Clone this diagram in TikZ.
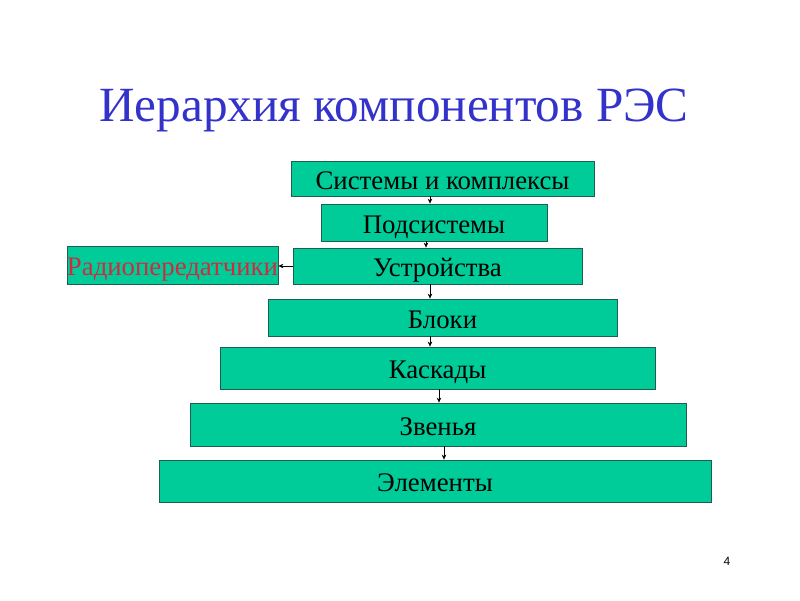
\documentclass[tikz,border=0pt]{standalone}
\usepackage{fontspec}
\setmainfont{Liberation Serif}
\newfontfamily\numfont{Liberation Sans}
\usetikzlibrary{arrows.meta}
\definecolor{titul}{HTML}{3333CC}
\definecolor{hop}{HTML}{00CC99}
\definecolor{vien}{HTML}{1F5F4F}
\definecolor{dothu}{HTML}{D02A40}
\tikzset{
	hop/.style={draw=vien,fill=hop,line width=0.8pt,inner sep=0pt,text height=22pt,text depth=1pt,font=\fontsize{26.8}{30}\selectfont},
	muiten/.style={-{Stealth[length=5pt,width=4.5pt]},line width=0.6pt}
}
\begin{document}
\begin{tikzpicture}[x=1pt,y=-1pt]
		\useasboundingbox[fill=white] (0,0) rectangle (800,600);
		%Tiêu đề
		\node[titul,font=\fontsize{49.2}{54}\selectfont] (tieude) at (394,110) {Иерархия компонентов РЭС};
		%Các hộp
		\node[hop,minimum width=303,minimum height=35] (sys) at (442.5,178.5) {Системы и комплексы};
		\node[hop,minimum width=226,minimum height=37] (podsys) at (434,222.5) {Подсистемы};
		\node[hop,minimum width=289,minimum height=36] (ustr) at (437.5,266) {Устройства};
		\node[hop,minimum width=211,minimum height=38,text=dothu] (radio) at (172.5,265) {Радиопередатчики};
		\node[hop,minimum width=349,minimum height=37] (bloki) at (442.5,317.5) {Блоки};
		\node[hop,minimum width=435,minimum height=42] (kask) at (437.5,368) {Каскады};
		\node[hop,minimum width=496,minimum height=43] (zven) at (438,424.5) {Звенья};
		\node[hop,minimum width=552,minimum height=42] (elem) at (435,481) {Элементы};
		%Mũi tên
		\draw[muiten] ([xshift=-12.5]sys.south) -- ([xshift=-12.5]sys.south |- podsys.north);
		\draw[muiten] ([xshift=-8]podsys.south) -- ([xshift=-8]podsys.south |- ustr.north);
		\draw[muiten] ([xshift=-7.5]ustr.south) -- ([xshift=-7.5]ustr.south |- bloki.north);
		\draw[muiten] ([xshift=-12.5]bloki.south) -- ([xshift=-12.5]bloki.south |- kask.north);
		\draw[muiten] ([xshift=1.5]kask.south) -- ([xshift=1.5]kask.south |- zven.north);
		\draw[muiten] ([xshift=6]zven.south) -- ([xshift=6]zven.south |- elem.north);
		\draw[muiten] (ustr.west) -- (ustr.west -| radio.east);
		%Số trang
		\node[font=\numfont\fontsize{12}{14}\selectfont] (so) at (727,561) {4};
\end{tikzpicture}
\end{document}
